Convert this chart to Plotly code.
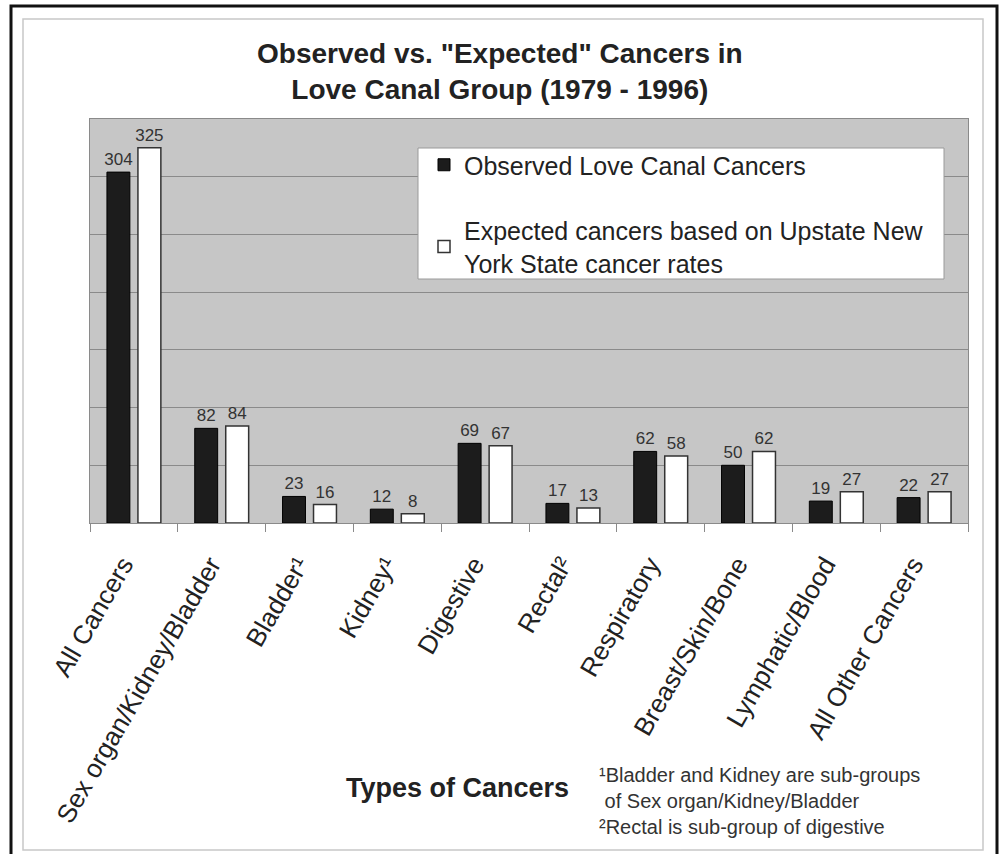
import plotly.graph_objects as go

categories = ["All Cancers", "Sex organ/Kidney/Bladder", "Bladder¹", "Kidney¹", "Digestive",
              "Rectal²", "Respiratory", "Breast/Skin/Bone", "Lymphatic/Blood", "All Other Cancers"]
observed = [304, 82, 23, 12, 69, 17, 62, 50, 19, 22]
expected = [325, 84, 16, 8, 67, 13, 58, 62, 27, 27]

series_names = ["Observed Love Canal Cancers",
                "Expected cancers based on Upstate New<br>York State cancer rates"]

FONT = "Arial, 'Liberation Sans', sans-serif"

W, H = 1003, 854
L, R, T, B = 90, 35, 119, 331
pw, ph = W - L - R, H - T - B


def px_x(px):
    return (px - L) / pw


def px_y(py):
    return (H - B - py) / ph


fig = go.Figure()
fig.add_trace(go.Bar(
    x=categories, y=observed, name=series_names[0], legendgroup="a",
    marker=dict(color="#1c1c1c", line=dict(color="#000000", width=1)),
    text=[str(v) for v in observed], textposition="outside", constraintext="none",
    textfont=dict(family=FONT, size=17, color="#333333"), cliponaxis=False,
))
fig.add_trace(go.Bar(
    x=categories, y=expected, name=series_names[1], legendgroup="b",
    marker=dict(color="#ffffff", line=dict(color="#333333", width=1.5)),
    text=[str(v) for v in expected], textposition="outside", constraintext="none",
    textfont=dict(family=FONT, size=17, color="#333333"), cliponaxis=False,
))

fig.update_layout(
    width=W, height=H,
    margin=dict(l=L, r=R, t=T, b=B),
    paper_bgcolor="#ffffff",
    plot_bgcolor="#c6c6c6",
    barmode="group", bargap=0.294, bargroupgap=0.26,
    font=dict(family=FONT, color="#222222"),
    showlegend=True,
    legend=dict(
        x=px_x(424), y=px_y(142), xanchor="left", yanchor="top",
        bgcolor="rgba(0,0,0,0)", borderwidth=0,
        font=dict(family=FONT, size=25, color="#222222"),
        traceorder="grouped", tracegroupgap=30,
    ),
    xaxis=dict(
        type="category", tickangle=-60, tickson="boundaries",
        ticks="outside", ticklen=8, tickcolor="#8a8a8a",
        showline=True, linecolor="#8a8a8a", linewidth=1, mirror=True,
        tickfont=dict(family=FONT, size=26, color="#222222"),
        ticklabelstandoff=15, ticklabelshift=-11,
        showgrid=False,
    ),
    yaxis=dict(
        range=[0, 350], dtick=50, showticklabels=False, ticks="",
        showgrid=True, gridcolor="#8a8a8a", gridwidth=1,
        showline=True, linecolor="#8a8a8a", linewidth=1, mirror=True,
        zeroline=False,
    ),
)

# Legend box
fig.add_shape(type="rect", xref="paper", yref="paper",
              x0=px_x(418), x1=px_x(944), y0=px_y(279), y1=px_y(148),
              fillcolor="#ffffff", line=dict(color="#9a9a9a", width=1), layer="above")

# Title
fig.add_annotation(
    xref="paper", yref="paper", x=px_x(500), y=px_y(72),
    xanchor="center", yanchor="middle", showarrow=False,
    text="<b>Observed vs. \"Expected\" Cancers in<br>Love Canal Group (1979 - 1996)</b>",
    font=dict(family=FONT, size=28, color="#222222"), align="center",
)
# Axis title
fig.add_annotation(
    xref="paper", yref="paper", x=px_x(457), y=px_y(788),
    xanchor="center", yanchor="middle", showarrow=False,
    text="<b>Types of Cancers</b>",
    font=dict(family=FONT, size=27, color="#222222"),
)
# Footnotes
fig.add_annotation(
    xref="paper", yref="paper", x=px_x(597), y=px_y(762),
    xanchor="left", yanchor="top", showarrow=False, align="left",
    text="¹Bladder and Kidney are sub-groups<br>\u00a0of Sex organ/Kidney/Bladder<br>²Rectal is sub-group of digestive",
    font=dict(family=FONT, size=20, color="#333333"),
)

# Frames
fig.add_shape(type="rect", xref="paper", yref="paper",
              x0=px_x(11), x1=px_x(997), y0=px_y(870), y1=px_y(6),
              line=dict(color="#111111", width=3), layer="above")
fig.add_shape(type="rect", xref="paper", yref="paper",
              x0=px_x(23), x1=px_x(983), y0=px_y(850), y1=px_y(19),
              line=dict(color="#c8c8c8", width=1.5), layer="above")

fig.write_html("out.html")
